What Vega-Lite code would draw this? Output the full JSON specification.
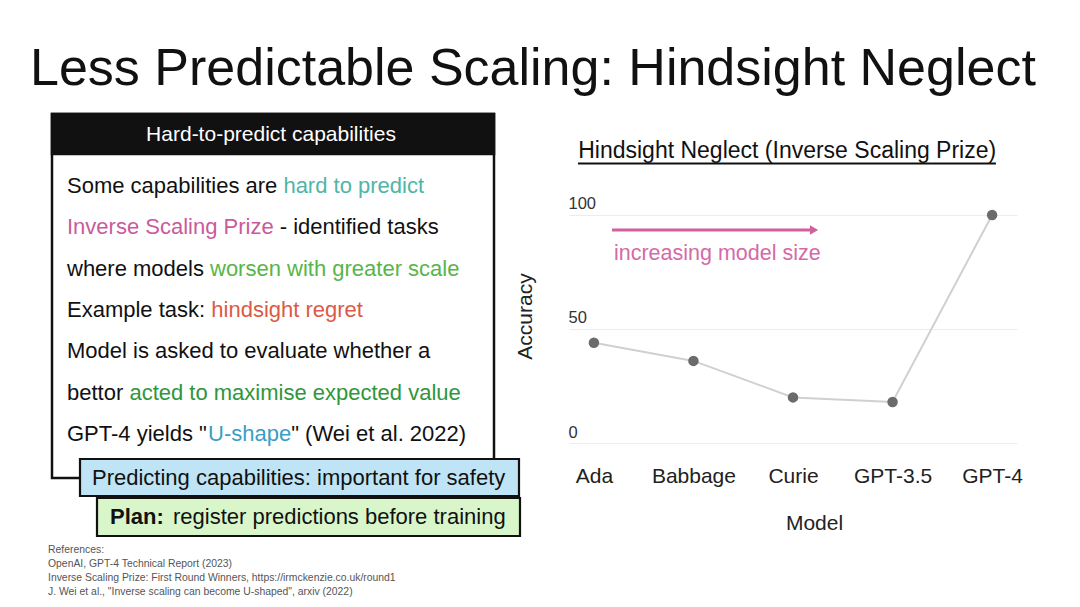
{
  "$schema": "https://vega.github.io/schema/vega-lite/v6.json",
  "background": "white",
  "padding": {"left": 30, "top": 43, "right": 0, "bottom": 0},
  "title": {"text": "Less Predictable Scaling: Hindsight Neglect", "anchor": "start", "font": "Liberation Sans", "fontSize": 52, "fontWeight": "normal", "color": "#111111", "offset": 15},
  "bounds": "flush",
  "spacing": 49,
  "datasets": {
    "accuracy": [
      {"model": "Ada", "accuracy": 44},
      {"model": "Babbage", "accuracy": 36},
      {"model": "Curie", "accuracy": 20},
      {"model": "GPT-3.5", "accuracy": 18},
      {"model": "GPT-4", "accuracy": 100}
    ],
    "body": [
      {"line": 1, "col": 37, "text": "Some capabilities are", "tone": "ink"},
      {"line": 1, "col": 253.4, "text": "hard to predict", "tone": "teal"},
      {"line": 2, "col": 37, "text": "Inverse Scaling Prize", "tone": "pink"},
      {"line": 2, "col": 249.7, "text": "- identified tasks", "tone": "ink"},
      {"line": 3, "col": 37, "text": "where models", "tone": "ink"},
      {"line": 3, "col": 180.0, "text": "worsen with greater scale", "tone": "green"},
      {"line": 4, "col": 37, "text": "Example task:", "tone": "ink"},
      {"line": 4, "col": 181.3, "text": "hindsight regret", "tone": "red"},
      {"line": 5, "col": 37, "text": "Model is asked to evaluate whether a", "tone": "ink"},
      {"line": 6, "col": 37, "text": "bettor", "tone": "ink"},
      {"line": 6, "col": 99.4, "text": "acted to maximise expected value", "tone": "darkgreen"},
      {"line": 7, "col": 37, "text": "GPT-4 yields \"", "tone": "ink"},
      {"line": 7, "col": 178.1, "text": "U-shape", "tone": "blue"},
      {"line": 7, "col": 261.2, "text": "\" (Wei et al. 2022)", "tone": "ink"}
    ],
    "refs": [
      {"ref": 1, "text": "References:"},
      {"ref": 2, "text": "OpenAI, GPT-4 Technical Report (2023)"},
      {"ref": 3, "text": "Inverse Scaling Prize: First Round Winners, https://irmckenzie.co.uk/round1"},
      {"ref": 4, "text": "J. Wei et al., \"Inverse scaling can become U-shaped\", arxiv (2022)"}
    ]
  },
  "hconcat": [
    {
      "width": 490,
      "height": 490,
      "resolve": {"scale": {"y": "independent"}},
      "layer": [
        {
          "data": {"values": [{"box": "capabilities"}]},
          "mark": {"type": "rect", "fill": "#ffffff", "stroke": "#111111", "strokeWidth": 2.5},
          "encoding": {
            "x": {"datum": 22, "type": "quantitative", "scale": {"domain": [0, 490], "nice": false, "zero": false}, "axis": null},
            "x2": {"datum": 464},
            "y": {"datum": -0.742, "type": "quantitative", "scale": {"domain": [-0.815, 11.041], "reverse": true, "nice": false, "zero": false}, "axis": null},
            "y2": {"datum": 8.065}
          }
        },
        {
          "data": {"values": [{"box": "header"}]},
          "mark": {"type": "rect", "fill": "#111111", "stroke": "#111111", "strokeWidth": 2.5},
          "encoding": {
            "x": {"datum": 22, "type": "quantitative", "scale": {"domain": [0, 490], "nice": false, "zero": false}, "axis": null},
            "x2": {"datum": 464},
            "y": {"datum": -0.742, "type": "quantitative", "scale": {"domain": [-0.815, 11.041], "reverse": true, "nice": false, "zero": false}, "axis": null},
            "y2": {"datum": 0.226}
          }
        },
        {
          "data": {"values": [{"heading": "Hard-to-predict capabilities"}]},
          "mark": {"type": "text", "color": "#ffffff", "font": "Liberation Sans", "fontSize": 21, "align": "center", "baseline": "middle"},
          "encoding": {
            "x": {"datum": 241, "type": "quantitative", "scale": {"domain": [0, 490], "nice": false, "zero": false}, "axis": null},
            "y": {"datum": -0.234, "type": "quantitative", "scale": {"domain": [-0.815, 11.041], "reverse": true, "nice": false, "zero": false}, "axis": null},
            "text": {"field": "heading"}
          }
        },
        {
          "data": {"name": "body"},
          "mark": {"type": "text", "font": "Liberation Sans", "fontSize": 22, "align": "left", "baseline": "middle"},
          "encoding": {
            "x": {"field": "col", "type": "quantitative", "scale": {"domain": [0, 490], "nice": false, "zero": false}, "axis": null},
            "y": {"field": "line", "type": "quantitative", "scale": {"domain": [-0.815, 11.041], "reverse": true, "nice": false, "zero": false}, "axis": null},
            "text": {"field": "text"},
            "color": {"field": "tone", "type": "nominal", "scale": {"domain": ["ink", "teal", "pink", "green", "red", "darkgreen", "blue"], "range": ["#111111", "#4fb5a7", "#c95b9c", "#58b548", "#dc5a45", "#2f963c", "#3a9ec4"]}, "legend": null}
          }
        },
        {
          "data": {"values": [{"box": "safety"}]},
          "mark": {"type": "rect", "fill": "#bfe4f6", "stroke": "#111111", "strokeWidth": 2.2},
          "encoding": {
            "x": {"datum": 50, "type": "quantitative", "scale": {"domain": [0, 490], "nice": false, "zero": false}, "axis": null},
            "x2": {"datum": 489},
            "y": {"datum": 7.605, "type": "quantitative", "scale": {"domain": [-0.815, 11.041], "reverse": true, "nice": false, "zero": false}, "axis": null},
            "y2": {"datum": 8.501}
          }
        },
        {
          "data": {"values": [{"note": "Predicting capabilities: important for safety"}]},
          "mark": {"type": "text", "color": "#111111", "font": "Liberation Sans", "fontSize": 22, "align": "left", "baseline": "middle"},
          "encoding": {
            "x": {"datum": 62, "type": "quantitative", "scale": {"domain": [0, 490], "nice": false, "zero": false}, "axis": null},
            "y": {"datum": 8.065, "type": "quantitative", "scale": {"domain": [-0.815, 11.041], "reverse": true, "nice": false, "zero": false}, "axis": null},
            "text": {"field": "note"}
          }
        },
        {
          "data": {"values": [{"box": "plan"}]},
          "mark": {"type": "rect", "fill": "#d8f6c9", "stroke": "#111111", "strokeWidth": 2.2},
          "encoding": {
            "x": {"datum": 67, "type": "quantitative", "scale": {"domain": [0, 490], "nice": false, "zero": false}, "axis": null},
            "x2": {"datum": 490},
            "y": {"datum": 8.549, "type": "quantitative", "scale": {"domain": [-0.815, 11.041], "reverse": true, "nice": false, "zero": false}, "axis": null},
            "y2": {"datum": 9.468}
          }
        },
        {
          "data": {"values": [{"note": "Plan:"}]},
          "mark": {"type": "text", "color": "#111111", "font": "Liberation Sans", "fontSize": 22, "fontWeight": "bold", "align": "left", "baseline": "middle"},
          "encoding": {
            "x": {"datum": 80, "type": "quantitative", "scale": {"domain": [0, 490], "nice": false, "zero": false}, "axis": null},
            "y": {"datum": 9.009, "type": "quantitative", "scale": {"domain": [-0.815, 11.041], "reverse": true, "nice": false, "zero": false}, "axis": null},
            "text": {"field": "note"}
          }
        },
        {
          "data": {"values": [{"note": "register predictions before training"}]},
          "mark": {"type": "text", "color": "#111111", "font": "Liberation Sans", "fontSize": 22, "align": "left", "baseline": "middle"},
          "encoding": {
            "x": {"datum": 143, "type": "quantitative", "scale": {"domain": [0, 490], "nice": false, "zero": false}, "axis": null},
            "y": {"datum": 9.009, "type": "quantitative", "scale": {"domain": [-0.815, 11.041], "reverse": true, "nice": false, "zero": false}, "axis": null},
            "text": {"field": "note"}
          }
        },
        {
          "data": {"name": "refs"},
          "mark": {"type": "text", "color": "#555555", "font": "Liberation Sans", "fontSize": 10.4, "align": "left", "baseline": "middle"},
          "encoding": {
            "x": {"datum": 18, "type": "quantitative", "scale": {"domain": [0, 490], "nice": false, "zero": false}, "axis": null},
            "y": {"field": "ref", "type": "quantitative", "scale": {"domain": [-30.36, 4.64], "reverse": true, "nice": false, "zero": false}, "axis": null},
            "text": {"field": "text"}
          }
        }
      ]
    },
    {
      "width": 448,
      "height": 332,
      "resolve": {"scale": {"x": "independent"}, "axis": {"y": "independent"}},
      "layer": [
        {
          "data": {"name": "accuracy"},
          "mark": {"type": "line", "color": "#d0d0d0", "strokeWidth": 2},
          "encoding": {
            "x": {"field": "model", "type": "nominal", "sort": null, "scale": {"type": "point", "padding": 0.25},
              "axis": {"domain": false, "ticks": false, "tickSize": 0, "grid": false, "labelAngle": 0, "labelFont": "Liberation Sans", "labelFontSize": 21, "labelColor": "#222222", "labelPadding": 22, "labelBaseline": "top", "title": "Model", "titleFont": "Liberation Sans", "titleFontSize": 21, "titleFontWeight": "normal", "titleColor": "#222222", "titleX": 245, "titleY": 80, "titleBaseline": "middle", "titleAlign": "center"}},
            "y": {"field": "accuracy", "type": "quantitative", "scale": {"domain": [0, 145.6], "nice": false, "zero": false},
              "axis": {"values": [0, 50, 100], "grid": true, "gridColor": "#ececec", "gridWidth": 1.2, "domain": false, "ticks": false, "tickSize": 0, "labelAlign": "left", "labelBaseline": "middle", "labelPadding": 1, "labelOffset": -11, "labelFont": "Liberation Sans", "labelFontSize": 16.5, "labelColor": "#333333", "title": "Accuracy", "titleFont": "Liberation Sans", "titleFontSize": 21, "titleFontWeight": "normal", "titleColor": "#222222", "titleX": -44, "titleY": 205, "titleAngle": -90, "titleAlign": "center", "titleBaseline": "middle"}}
          }
        },
        {
          "data": {"name": "accuracy"},
          "mark": {"type": "point", "filled": true, "color": "#6b6b6b", "size": 110, "opacity": 1},
          "encoding": {
            "x": {"field": "model", "type": "nominal", "sort": null, "scale": {"type": "point", "padding": 0.25}, "axis": null},
            "y": {"field": "accuracy", "type": "quantitative", "scale": {"domain": [0, 145.6], "nice": false, "zero": false}, "axis": null}
          }
        },
        {
          "data": {"values": [{"caption": "Hindsight Neglect (Inverse Scaling Prize)"}]},
          "mark": {"type": "text", "color": "#111111", "font": "Liberation Sans", "fontSize": 23, "align": "center", "baseline": "middle"},
          "encoding": {
            "x": {"datum": 0.487, "type": "quantitative", "scale": {"domain": [0, 1], "nice": false, "zero": false}, "axis": null},
            "y": {"datum": 128, "type": "quantitative", "scale": {"domain": [0, 145.6], "nice": false, "zero": false}, "axis": null},
            "text": {"field": "caption"}
          }
        },
        {
          "data": {"values": [{"caption": "underline"}]},
          "mark": {"type": "rule", "color": "#111111", "strokeWidth": 2},
          "encoding": {
            "x": {"datum": 0.02, "type": "quantitative", "scale": {"domain": [0, 1], "nice": false, "zero": false}, "axis": null},
            "x2": {"datum": 0.953},
            "y": {"datum": 122.6, "type": "quantitative", "scale": {"domain": [0, 145.6], "nice": false, "zero": false}, "axis": null}
          }
        },
        {
          "data": {"values": [{"note": "arrow"}]},
          "mark": {"type": "rule", "color": "#d0609e", "strokeWidth": 3},
          "encoding": {
            "x": {"datum": 0.096, "type": "quantitative", "scale": {"domain": [0, 1], "nice": false, "zero": false}, "axis": null},
            "x2": {"datum": 0.54},
            "y": {"datum": 93.4, "type": "quantitative", "scale": {"domain": [0, 145.6], "nice": false, "zero": false}, "axis": null}
          }
        },
        {
          "data": {"values": [{"note": "arrowhead"}]},
          "mark": {"type": "point", "shape": "triangle-right", "filled": true, "color": "#d0609e", "size": 90, "opacity": 1},
          "encoding": {
            "x": {"datum": 0.547, "type": "quantitative", "scale": {"domain": [0, 1], "nice": false, "zero": false}, "axis": null},
            "y": {"datum": 93.4, "type": "quantitative", "scale": {"domain": [0, 145.6], "nice": false, "zero": false}, "axis": null}
          }
        },
        {
          "data": {"values": [{"note": "increasing model size"}]},
          "mark": {"type": "text", "color": "#d46aa6", "font": "Liberation Sans", "fontSize": 21.5, "align": "center", "baseline": "middle"},
          "encoding": {
            "x": {"datum": 0.331, "type": "quantitative", "scale": {"domain": [0, 1], "nice": false, "zero": false}, "axis": null},
            "y": {"datum": 82.9, "type": "quantitative", "scale": {"domain": [0, 145.6], "nice": false, "zero": false}, "axis": null},
            "text": {"field": "note"}
          }
        }
      ]
    }
  ],
  "config": {"view": {"stroke": null}, "font": "Liberation Sans"}
}
